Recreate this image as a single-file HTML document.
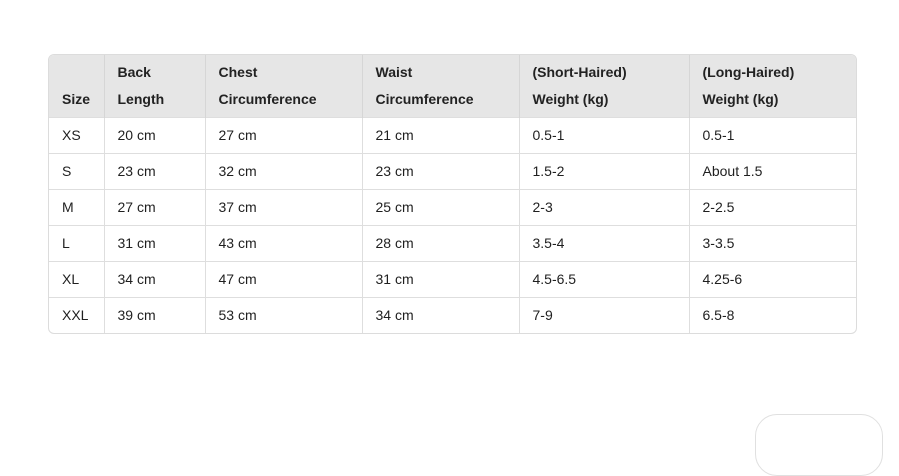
<!DOCTYPE html>
<html><head><meta charset="utf-8"><style>
body{margin:0;width:899px;height:436px;background:#fff;overflow:hidden;font-family:"Liberation Sans",sans-serif;color:#1f1f1f;position:relative}
.wrap{position:absolute;left:48px;top:54px;width:807px;border:1px solid #dcdcdc;border-radius:6px;overflow:hidden}
table{border-collapse:collapse;width:807px;table-layout:fixed;font-size:14px}
th{background:#e6e6e6;font-weight:600;text-align:left;vertical-align:bottom;height:62px;padding:0 0 4px 13px;line-height:27px;border-left:1px solid #d6d6d6;color:#222;box-sizing:border-box}
td{height:36px;padding:0 0 0 13px;border-left:1px solid #dedede;border-top:1px solid #dedede;box-sizing:border-box}
th:first-child,td:first-child{border-left:none}
.bubble{position:absolute;left:755px;top:414px;width:126px;height:60px;border:1px solid #e0e0e0;border-radius:22px}
</style></head><body>
<div class="wrap">
<table>
<colgroup><col style="width:55px"><col style="width:101px"><col style="width:157px"><col style="width:157px"><col style="width:170px"><col style="width:167px"></colgroup>
<thead><tr>
<th>Size</th>
<th>Back<br>Length</th>
<th>Chest<br>Circumference</th>
<th>Waist<br>Circumference</th>
<th>(Short-Haired)<br>Weight (kg)</th>
<th>(Long-Haired)<br>Weight (kg)</th>
</tr></thead>
<tbody>
<tr><td>XS</td><td>20 cm</td><td>27 cm</td><td>21 cm</td><td>0.5-1</td><td>0.5-1</td></tr>
<tr><td>S</td><td>23 cm</td><td>32 cm</td><td>23 cm</td><td>1.5-2</td><td>About 1.5</td></tr>
<tr><td>M</td><td>27 cm</td><td>37 cm</td><td>25 cm</td><td>2-3</td><td>2-2.5</td></tr>
<tr><td>L</td><td>31 cm</td><td>43 cm</td><td>28 cm</td><td>3.5-4</td><td>3-3.5</td></tr>
<tr><td>XL</td><td>34 cm</td><td>47 cm</td><td>31 cm</td><td>4.5-6.5</td><td>4.25-6</td></tr>
<tr><td>XXL</td><td>39 cm</td><td>53 cm</td><td>34 cm</td><td>7-9</td><td>6.5-8</td></tr>
</tbody></table></div>
<div class="bubble"></div>
</body></html>
